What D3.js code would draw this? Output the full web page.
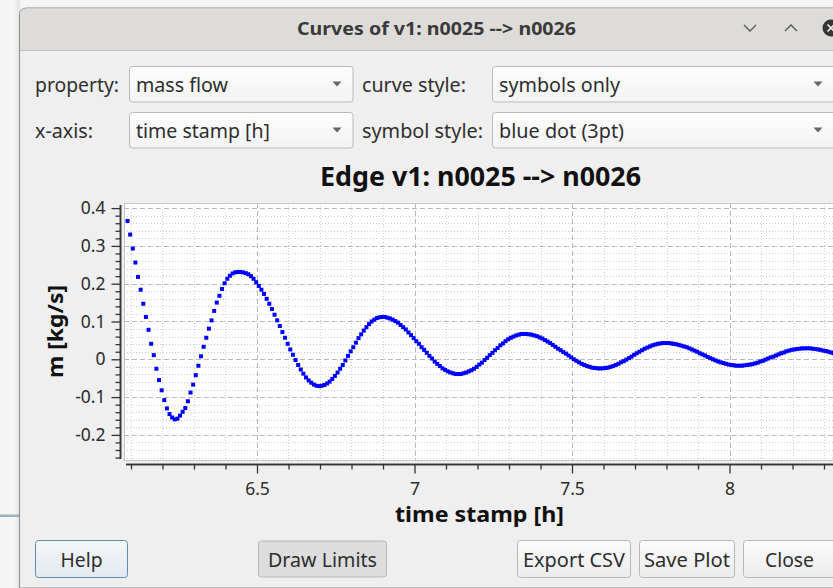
<!DOCTYPE html>
<html>
<head>
<meta charset="utf-8">
<script src="https://cdn.jsdelivr.net/npm/d3@7"></script>
<style>
html, body { margin: 0; padding: 0; background: #f4f4f4; overflow: hidden; }
svg { display: block; }
text { font-family: "Noto Sans", sans-serif; }
</style>
</head>
<body>
<div id="wrapper"></div>
<script>
// mass flow of edge v1 (kg/s), one sample every 30 s starting at startTime (h)
const startTime = 6.089;
const sampleStep = 1 / 120;
const massFlow = [
  0.366, 0.330, 0.293, 0.256, 0.218, 0.184, 0.147, 0.112, 0.078, 0.041,
  0.011, -0.025, -0.055, -0.082, -0.108, -0.130, -0.145, -0.154, -0.159, -0.157,
  -0.149, -0.139, -0.129, -0.111, -0.088, -0.067, -0.042, -0.017, 0.008, 0.033,
  0.057, 0.081, 0.103, 0.128, 0.150, 0.168, 0.186, 0.201, 0.213, 0.221,
  0.227, 0.230, 0.231, 0.231, 0.230, 0.228, 0.225, 0.220, 0.213, 0.204,
  0.194, 0.184, 0.173, 0.160, 0.147, 0.133, 0.118, 0.103, 0.088, 0.072,
  0.057, 0.041, 0.026, 0.012, -0.002, -0.015, -0.027, -0.038, -0.048, -0.056,
  -0.062, -0.067, -0.070, -0.071, -0.070, -0.068, -0.064, -0.059, -0.052, -0.044,
  -0.035, -0.025, -0.015, -0.003, 0.009, 0.021, 0.032, 0.044, 0.056, 0.066,
  0.076, 0.085, 0.093, 0.100, 0.105, 0.109, 0.111, 0.112, 0.112, 0.110,
  0.108, 0.105, 0.101, 0.097, 0.091, 0.085, 0.079, 0.071, 0.064, 0.056,
  0.048, 0.041, 0.032, 0.025, 0.017, 0.009, 0.002, -0.006, -0.012, -0.018,
  -0.024, -0.028, -0.032, -0.035, -0.037, -0.039, -0.039, -0.039, -0.037, -0.035,
  -0.032, -0.029, -0.025, -0.020, -0.014, -0.009, -0.002, 0.004, 0.011, 0.017,
  0.024, 0.030, 0.037, 0.042, 0.048, 0.053, 0.057, 0.060, 0.063, 0.065,
  0.067, 0.067, 0.067, 0.066, 0.065, 0.063, 0.061, 0.058, 0.055, 0.051,
  0.047, 0.043, 0.038, 0.033, 0.028, 0.024, 0.019, 0.015, 0.010, 0.005,
  0.000, -0.004, -0.008, -0.012, -0.015, -0.018, -0.020, -0.022, -0.023, -0.024,
  -0.024, -0.024, -0.023, -0.022, -0.020, -0.018, -0.015, -0.012, -0.008, -0.005,
  -0.001, 0.003, 0.007, 0.012, 0.016, 0.020, 0.024, 0.028, 0.031, 0.034,
  0.037, 0.039, 0.041, 0.042, 0.043, 0.043, 0.043, 0.042, 0.041, 0.040,
  0.038, 0.036, 0.034, 0.032, 0.029, 0.026, 0.023, 0.020, 0.016, 0.013,
  0.010, 0.006, 0.003, 0.000, -0.003, -0.006, -0.008, -0.010, -0.012, -0.014,
  -0.015, -0.016, -0.017, -0.017, -0.017, -0.016, -0.015, -0.014, -0.013, -0.011,
  -0.009, -0.006, -0.004, -0.001, 0.002, 0.005, 0.007, 0.010, 0.013, 0.016,
  0.018, 0.021, 0.023, 0.025, 0.026, 0.027, 0.028, 0.029, 0.029, 0.029,
  0.029, 0.028, 0.027, 0.026, 0.025, 0.023, 0.022, 0.020, 0.018, 0.016,
  0.014, 0.012, 0.0095, 0.007, 0.005
];

const xMajorTicks = [6.5, 7, 7.5, 8];
const xTickLabels = ["6.5", "7", "7.5", "8"];
const yMajorTicks = [-0.2, -0.1, 0, 0.1, 0.2, 0.3, 0.4];
const yTickLabels = ["-0.2", "-0.1", "0", "0.1", "0.2", "0.3", "0.4"];

const windowTitle = "Curves of v1: n0025 --> n0026";
const chartTitle = "Edge v1: n0025 --> n0026";
const xAxisTitle = "time stamp [h]";
const yAxisTitle = "m [kg/s]";

const comboLabels = ["property:", "curve style:", "x-axis:", "symbol style:"];
const comboValues = ["mass flow", "symbols only", "time stamp [h]", "blue dot (3pt)"];
const buttonLabels = ["Help", "Draw Limits", "Export CSV", "Save Plot", "Close"];

const points = massFlow.map((v, i) => ({t: startTime + i * sampleStep, v: v}));

dimensions = {
  width: 833,
  height: 588,
  canvas: {left: 124, top: 203, right: 850, bottom: 460}
}

const svg = d3.select("#wrapper").append("svg")
  .attr("width", dimensions.width)
  .attr("height", dimensions.height);

const defs = svg.append("defs");
const grad = (id, a, b) => {
  const g = defs.append("linearGradient").attr("id", id).attr("x1", 0).attr("y1", 0).attr("x2", 0).attr("y2", 1);
  g.append("stop").attr("offset", "0%").attr("stop-color", a);
  g.append("stop").attr("offset", "100%").attr("stop-color", b);
}
grad("btn", "#fbfbfb", "#ececec");
grad("combo", "#fdfdfd", "#f3f3f3");
grad("help", "#f4f7fa", "#e2e9ef");
const shadow = defs.append("linearGradient").attr("id", "shadow").attr("x1", 0).attr("x2", 1);
shadow.append("stop").attr("offset", "0%").attr("stop-color", "#f6f6f6");
shadow.append("stop").attr("offset", "100%").attr("stop-color", "#e2e2e2");

// desktop behind the dialog
svg.append("rect").attr("width", 833).attr("height", 588).attr("fill", "#f5f5f5");
svg.append("rect").attr("x", 14).attr("y", 0).attr("width", 6).attr("height", 588).attr("fill", "url(#shadow)");
svg.append("rect").attr("x", 0).attr("y", 514.5).attr("width", 20).attr("height", 2.5).attr("fill", "#9cb0c1");

// dialog frame
svg.append("path")
  .attr("d", "M19.5,588 V15 Q19.5,8 26.5,8 H860 V588 Z")
  .attr("fill", "#efefef")
  .attr("stroke", "#8c8c8c");
svg.append("path")
  .attr("d", "M20,50 V15 Q20,8.5 26.5,8.5 H860 V50 Z")
  .attr("fill", "#dedcd9");
svg.append("line").attr("x1", 20).attr("x2", 833).attr("y1", 50.5).attr("y2", 50.5).attr("stroke", "#c4c2bf");

svg.append("text")
  .attr("x", 297).attr("y", 35)
  .attr("textLength", 279).attr("lengthAdjust", "spacingAndGlyphs")
  .style("font-size", "18px").style("font-weight", "bold").attr("fill", "#3a3a3a")
  .text(windowTitle);

svg.append("polyline").attr("points", "744,25 750,31 756,25").attr("fill", "none").attr("stroke", "#555").attr("stroke-width", 1.3);
svg.append("polyline").attr("points", "785,31 791,25 797,31").attr("fill", "none").attr("stroke", "#555").attr("stroke-width", 1.3);
svg.append("circle").attr("cx", 831).attr("cy", 28).attr("r", 8.5).attr("fill", "#363636");
svg.append("path").attr("d", "M827.5,24.5 L834.5,31.5 M834.5,24.5 L827.5,31.5").attr("stroke", "#eee").attr("stroke-width", 1.6);

// combo boxes
const labelX = [35, 362, 35, 362];
const labelW = [84, 104, 58, 121];
const comboX = [129.5, 492.5, 129.5, 492.5];
const comboW = [223.5, 360, 223.5, 360];
const valueW = [92, 121, 134, 125];
comboLabels.forEach((lab, i) => {
  const y = i < 2 ? 66.5 : 112.5;
  svg.append("text")
    .attr("x", labelX[i]).attr("y", y + 25)
    .attr("textLength", labelW[i]).attr("lengthAdjust", "spacingAndGlyphs")
    .style("font-size", "19.5px").attr("fill", "#2e2e2e")
    .text(lab);
  svg.append("rect")
    .attr("x", comboX[i]).attr("y", y)
    .attr("width", comboW[i]).attr("height", 35.5).attr("rx", 3)
    .attr("fill", "url(#combo)").attr("stroke", "#bababa");
  svg.append("text")
    .attr("x", comboX[i] + 6.5).attr("y", y + 25)
    .attr("textLength", valueW[i]).attr("lengthAdjust", "spacingAndGlyphs")
    .style("font-size", "19.5px").attr("fill", "#2e2e2e")
    .text(comboValues[i]);
  const ax = i % 2 == 0 ? 337 : 818;
  svg.append("path")
    .attr("d", `M${ax - 4.5},${y + 15} h9 l-4.5,5 z`)
    .attr("fill", "#666");
});

// buttons
const btnX = [35.5, 258.5, 517.5, 639.5, 743.5];
const btnW = [92, 128, 113, 95, 120];
const btnText = [42, 109, 102, 86, 49];
const btnCx = [81.5, 322.5, 574, 687, 789.5];
buttonLabels.forEach((lab, i) => {
  svg.append("rect")
    .attr("x", btnX[i]).attr("y", i == 1 ? 541 : 540.5)
    .attr("width", btnW[i]).attr("height", i == 1 ? 36 : 37).attr("rx", 3)
    .attr("fill", i == 0 ? "url(#help)" : (i == 1 ? "#dddddd" : "url(#btn)"))
    .attr("stroke", i == 0 ? "#5d8db3" : "#b8b8b8");
  svg.append("text")
    .attr("x", btnCx[i] - btnText[i] / 2).attr("y", 567)
    .attr("textLength", btnText[i]).attr("lengthAdjust", "spacingAndGlyphs")
    .style("font-size", "19.5px").attr("fill", "#2e2e2e")
    .text(lab);
});

// ---- plot ----
const c = dimensions.canvas;
const xScale = d3.scaleLinear().domain([6.0778, 8.3825]).range([c.left, c.right]);
const yScale = d3.scaleLinear().domain([-0.2646, 0.4127]).range([459.3, 203.3]);

svg.append("text")
  .attr("x", 320).attr("y", 186)
  .attr("textLength", 321).attr("lengthAdjust", "spacingAndGlyphs")
  .style("font-size", "27px").style("font-weight", "bold").attr("fill", "#111")
  .text(chartTitle);

svg.append("rect")
  .attr("x", c.left + 0.5).attr("y", c.top + 0.5)
  .attr("width", c.right - c.left).attr("height", c.bottom - c.top)
  .attr("fill", "#ffffff").attr("stroke", "#c6c6c6");

defs.append("clipPath").attr("id", "clip").append("rect")
  .attr("x", c.left + 1).attr("y", c.top + 1)
  .attr("width", c.right - c.left - 1).attr("height", c.bottom - c.top - 1);

const grid = svg.append("g").attr("clip-path", "url(#clip)");
const xMinor = xScale.ticks(25).filter(d => !xMajorTicks.some(m => Math.abs(m - d) < 1e-6));
const yMinor = yScale.ticks(35).filter(d => !yMajorTicks.some(m => Math.abs(m - d) < 1e-6));

grid.selectAll(".xminor").data(xMinor).enter().append("line")
  .attr("x1", d => Math.round(xScale(d)) + 0.5).attr("x2", d => Math.round(xScale(d)) + 0.5)
  .attr("y1", c.top).attr("y2", c.bottom)
  .attr("stroke", "#cfcfcf").attr("stroke-dasharray", "1,2");
grid.selectAll(".yminor").data(yMinor).enter().append("line")
  .attr("y1", d => Math.round(yScale(d)) + 0.5).attr("y2", d => Math.round(yScale(d)) + 0.5)
  .attr("x1", c.left).attr("x2", c.right)
  .attr("stroke", "#cfcfcf").attr("stroke-dasharray", "1,2");
grid.selectAll(".xmajor").data(xMajorTicks).enter().append("line")
  .attr("x1", d => Math.round(xScale(d)) + 0.5).attr("x2", d => Math.round(xScale(d)) + 0.5)
  .attr("y1", c.top).attr("y2", c.bottom)
  .attr("stroke", "#b8b8b8").attr("stroke-dasharray", "5,3");
grid.selectAll(".ymajor").data(yMajorTicks).enter().append("line")
  .attr("y1", d => Math.round(yScale(d)) + 0.5).attr("y2", d => Math.round(yScale(d)) + 0.5)
  .attr("x1", c.left).attr("x2", c.right)
  .attr("stroke", "#b8b8b8").attr("stroke-dasharray", "5,3");

// symbols
grid.selectAll(".pt").data(points).enter().append("rect")
  .attr("x", d => xScale(d.t) - 2).attr("y", d => yScale(d.v) - 2)
  .attr("width", 4).attr("height", 4)
  .attr("fill", "#0000ff");

// axes
const yAxisX = 120.5;
const yMinorAxis = d3.axisLeft(yScale).tickValues(yMinor).tickSize(5).tickSizeOuter(0).tickFormat("");
const yMajorAxis = d3.axisLeft(yScale).tickValues(yMajorTicks).tickSize(9).tickSizeOuter(0)
  .tickPadding(6).tickFormat((d, i) => yTickLabels[i]);
const gy1 = svg.append("g").attr("transform", `translate(${yAxisX},0)`).call(yMinorAxis);
const gy2 = svg.append("g").attr("transform", `translate(${yAxisX},0)`).call(yMajorAxis);
[gy1, gy2].forEach(g => {
  g.select(".domain").attr("d", `M0,${c.top + 2}V${c.bottom - 1}`).attr("stroke", "#333").attr("stroke-width", 1.5);
  g.selectAll(".tick line").attr("stroke", "#333").attr("stroke-width", 1.3);
});
gy2.selectAll(".tick text").style("font-family", "Noto Sans").style("font-size", "17.5px").attr("fill", "#2a2a2a");

const xAxisY = 464.5;
const xMinorAxis = d3.axisBottom(xScale).tickValues(xMinor).tickSize(5).tickSizeOuter(0).tickFormat("");
const xMajorAxis = d3.axisBottom(xScale).tickValues(xMajorTicks).tickSize(9).tickSizeOuter(0)
  .tickPadding(9).tickFormat((d, i) => xTickLabels[i]);
const gx1 = svg.append("g").attr("transform", `translate(0,${xAxisY})`).call(xMinorAxis);
const gx2 = svg.append("g").attr("transform", `translate(0,${xAxisY})`).call(xMajorAxis);
[gx1, gx2].forEach(g => {
  g.select(".domain").attr("d", `M${c.left + 2},0H${c.right}`).attr("stroke", "#333").attr("stroke-width", 1.5);
  g.selectAll(".tick line").attr("stroke", "#333").attr("stroke-width", 1.3);
});
gx2.selectAll(".tick text").style("font-family", "Noto Sans").style("font-size", "17.5px").attr("fill", "#2a2a2a");

svg.append("text")
  .attr("x", 395).attr("y", 522)
  .attr("textLength", 169).attr("lengthAdjust", "spacingAndGlyphs")
  .style("font-size", "21px").style("font-weight", "bold").attr("fill", "#111")
  .text(xAxisTitle);

svg.append("text")
  .attr("transform", "translate(63,378) rotate(-90)")
  .attr("textLength", 93).attr("lengthAdjust", "spacingAndGlyphs")
  .style("font-size", "21px").style("font-weight", "bold").attr("fill", "#111")
  .text(yAxisTitle);
</script>
</body>
</html>
